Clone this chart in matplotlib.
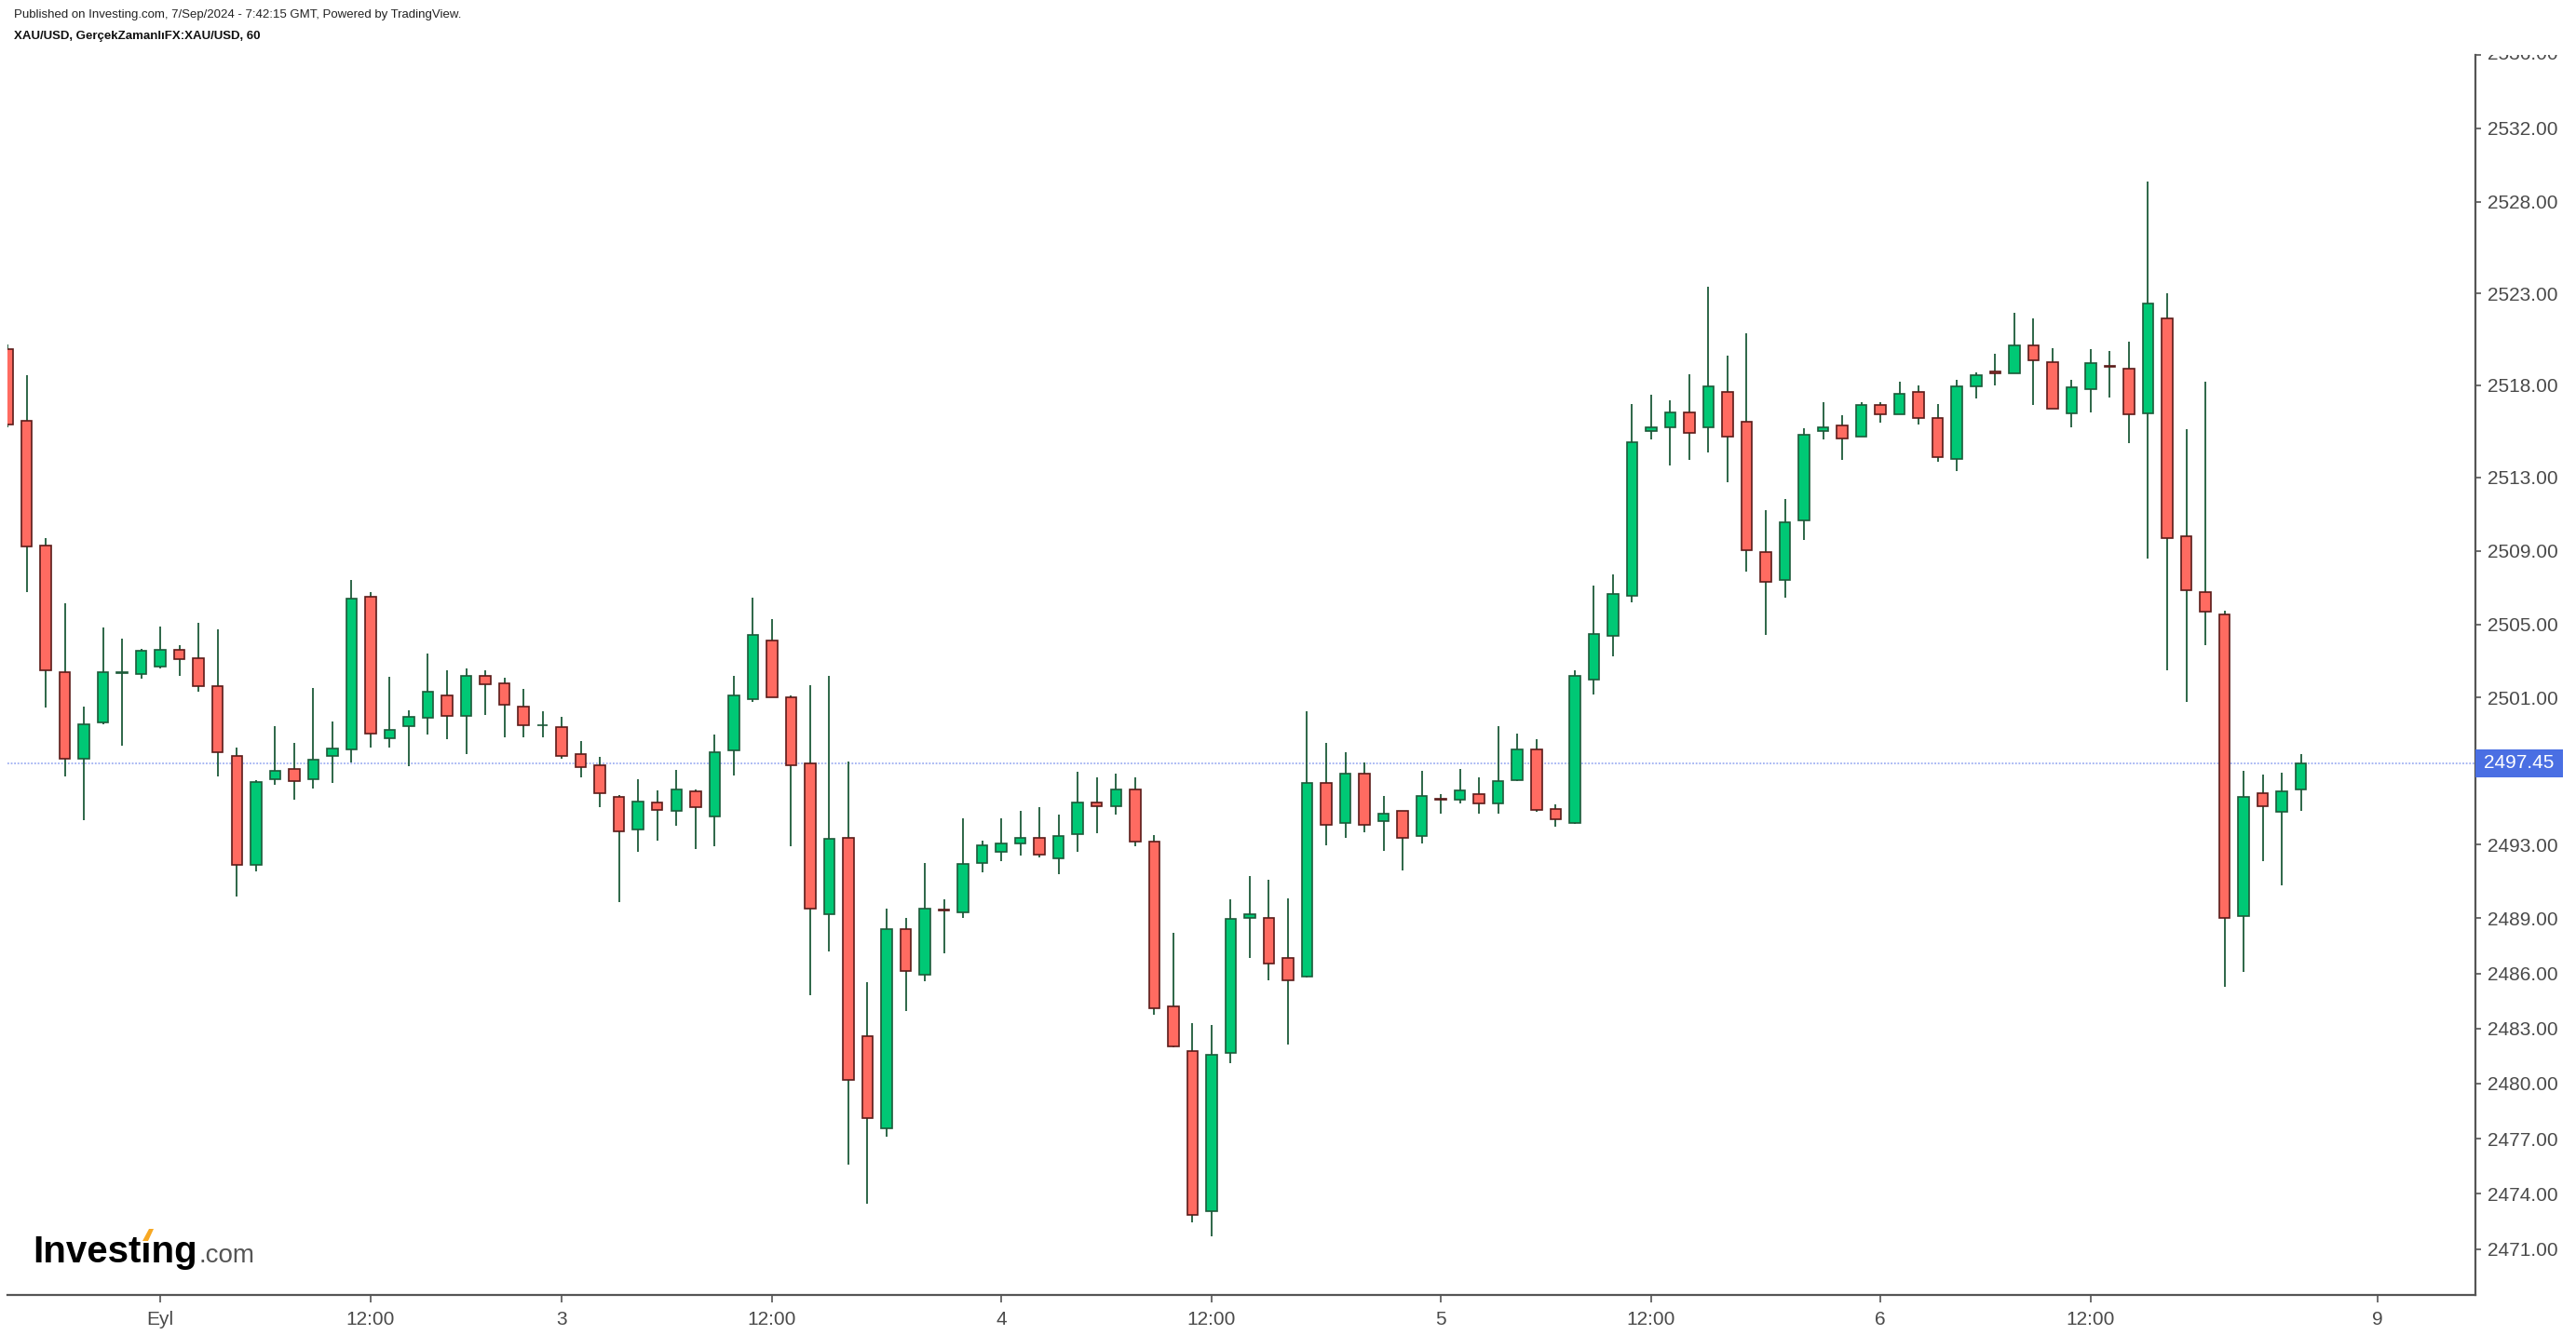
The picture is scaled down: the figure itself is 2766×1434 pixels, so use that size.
import matplotlib
matplotlib.use('Agg')
import matplotlib.pyplot as plt
from matplotlib.patches import Rectangle, Polygon
from matplotlib.transforms import Bbox, TransformedBbox, blended_transform_factory

plt.rcParams['font.family'] = ['Liberation Sans', 'DejaVu Sans']

# ---------------- data (hourly XAU/USD candles) ----------------
opens = [2519.96, 2516.08, 2509.26, 2502.41, 2497.70, 2499.64, 2502.35, 2502.30, 2502.70, 2503.63,
         2503.13, 2501.61, 2497.81, 2491.90, 2496.57, 2497.11, 2496.57, 2497.81, 2498.20, 2506.51,
         2498.82, 2499.45, 2499.90, 2501.15, 2499.99, 2502.18, 2501.76, 2500.51, 2499.48, 2499.40,
         2497.94, 2497.33, 2495.58, 2493.84, 2495.28, 2494.85, 2495.89, 2494.55, 2498.15, 2500.91,
         2504.12, 2501.03, 2497.45, 2489.24, 2493.38, 2482.58, 2477.57, 2488.39, 2485.91, 2489.45,
         2489.30, 2491.99, 2492.63, 2493.05, 2493.38, 2492.25, 2493.56, 2495.32, 2495.10, 2496.03,
         2493.16, 2484.20, 2481.76, 2473.05, 2481.65, 2489.01, 2489.01, 2486.86, 2485.85, 2496.36,
         2494.19, 2496.88, 2494.29, 2494.83, 2493.48, 2495.52, 2495.43, 2495.75, 2495.23, 2496.54,
         2498.19, 2494.93, 2494.19, 2501.97, 2504.39, 2506.54, 2515.51, 2515.71, 2516.54, 2515.71,
         2517.65, 2516.03, 2508.94, 2507.40, 2510.64, 2515.51, 2515.83, 2515.20, 2516.94, 2516.42,
         2517.65, 2516.24, 2513.99, 2517.94, 2518.75, 2518.65, 2520.19, 2519.27, 2516.50, 2517.79,
         2519.05, 2518.91, 2516.50, 2521.64, 2509.79, 2506.73, 2505.55, 2489.11, 2495.82, 2494.79,
         2495.99]
highs = [2520.20, 2518.54, 2509.69, 2506.12, 2500.52, 2504.81, 2504.20, 2503.65, 2504.87, 2503.87,
         2505.09, 2504.70, 2498.27, 2496.52, 2499.47, 2498.55, 2501.54, 2499.69, 2507.43, 2506.73,
         2502.15, 2500.30, 2503.43, 2502.51, 2502.61, 2502.51, 2502.09, 2501.48, 2500.25, 2499.94,
         2498.62, 2497.78, 2495.72, 2496.55, 2495.94, 2497.07, 2496.03, 2499.02, 2502.21, 2506.42,
         2505.29, 2501.15, 2501.66, 2502.21, 2497.51, 2485.54, 2489.53, 2489.02, 2491.99, 2490.04,
         2494.43, 2493.21, 2494.43, 2494.85, 2495.05, 2494.63, 2496.98, 2496.67, 2496.89, 2496.67,
         2493.52, 2488.22, 2483.31, 2483.21, 2490.04, 2491.30, 2491.10, 2490.07, 2500.26, 2498.54,
         2498.02, 2497.50, 2495.67, 2494.83, 2497.01, 2495.77, 2497.11, 2496.68, 2499.45, 2499.03,
         2498.73, 2495.18, 2502.51, 2507.08, 2507.70, 2516.98, 2517.48, 2517.18, 2518.60, 2523.36,
         2519.61, 2520.83, 2511.20, 2511.81, 2515.64, 2517.08, 2516.37, 2517.08, 2517.08, 2518.19,
         2517.99, 2516.98, 2518.30, 2518.70, 2519.71, 2521.94, 2521.64, 2520.00, 2518.32, 2519.97,
         2519.85, 2520.38, 2529.08, 2522.99, 2515.61, 2518.20, 2505.73, 2497.03, 2496.82, 2496.94,
         2497.94]
lows = [2515.70, 2506.77, 2500.45, 2496.74, 2494.32, 2499.53, 2498.40, 2502.06, 2502.59, 2502.17,
        2501.34, 2496.74, 2490.16, 2491.56, 2496.26, 2495.44, 2496.05, 2496.35, 2497.46, 2498.31,
        2498.31, 2497.29, 2499.02, 2498.74, 2497.92, 2500.04, 2498.84, 2498.84, 2498.84, 2497.70,
        2496.69, 2495.04, 2489.90, 2492.59, 2493.20, 2494.03, 2492.78, 2492.90, 2496.79, 2500.79,
        2501.03, 2492.90, 2484.81, 2487.17, 2475.58, 2473.47, 2477.11, 2483.94, 2485.58, 2487.11,
        2489.04, 2491.48, 2492.10, 2492.41, 2492.32, 2491.39, 2492.61, 2493.63, 2494.65, 2492.92,
        2483.74, 2482.00, 2472.43, 2471.70, 2481.10, 2486.83, 2485.62, 2482.14, 2485.80, 2492.96,
        2493.35, 2493.67, 2492.64, 2491.62, 2493.06, 2494.71, 2495.23, 2494.71, 2494.71, 2496.46,
        2494.78, 2493.97, 2494.15, 2501.20, 2503.25, 2506.19, 2515.07, 2513.65, 2513.95, 2514.36,
        2512.74, 2507.87, 2504.43, 2506.45, 2509.60, 2515.07, 2513.95, 2515.20, 2515.98, 2516.42,
        2515.88, 2513.85, 2513.35, 2517.30, 2518.01, 2518.65, 2516.91, 2516.72, 2515.73, 2516.55,
        2517.35, 2514.85, 2508.55, 2502.50, 2500.76, 2503.88, 2485.26, 2486.06, 2492.11, 2490.79,
        2494.85]
closes = [2515.88, 2509.24, 2502.50, 2497.70, 2499.56, 2502.41, 2502.40, 2503.55, 2503.63, 2503.11,
          2501.61, 2498.03, 2491.90, 2496.39, 2497.00, 2496.48, 2497.62, 2498.23, 2506.40, 2499.03,
          2499.25, 2499.97, 2501.33, 2499.99, 2502.18, 2501.73, 2500.60, 2499.50, 2499.52, 2497.85,
          2497.23, 2495.80, 2493.72, 2495.37, 2494.88, 2496.01, 2495.06, 2498.06, 2501.12, 2504.42,
          2501.03, 2497.33, 2489.53, 2493.32, 2480.21, 2478.15, 2488.39, 2486.13, 2489.50, 2489.40,
          2491.95, 2492.97, 2493.07, 2493.38, 2492.45, 2493.49, 2495.32, 2495.10, 2496.03, 2493.16,
          2484.09, 2482.05, 2472.87, 2481.56, 2488.99, 2489.20, 2486.56, 2485.62, 2496.36, 2494.09,
          2496.88, 2494.09, 2494.71, 2493.38, 2495.65, 2495.47, 2495.97, 2495.23, 2496.46, 2498.19,
          2494.91, 2494.41, 2502.17, 2504.49, 2506.63, 2514.88, 2515.73, 2516.54, 2515.41, 2517.96,
          2515.19, 2509.02, 2507.30, 2510.56, 2515.32, 2515.71, 2515.10, 2516.94, 2516.42, 2517.55,
          2516.22, 2514.09, 2517.96, 2518.56, 2518.65, 2520.19, 2519.36, 2516.72, 2517.91, 2519.20,
          2519.00, 2516.41, 2522.44, 2509.70, 2506.85, 2505.67, 2489.03, 2495.58, 2495.11, 2495.91,
          2497.45]

last_price = 2497.45
y_tick_values = [2536, 2532, 2528, 2523, 2518, 2513, 2509, 2505, 2501,
                 2493, 2489, 2486, 2483, 2480, 2477, 2474, 2471]
x_tick_bars = [8, 19, 29, 40, 52, 63, 75, 86, 98, 109, 124]
x_tick_labels = ["Eyl", "12:00", "3", "12:00", "4", "12:00", "5", "12:00", "6", "12:00", "9"]

header_line1 = "Published on Investing.com, 7/Sep/2024 - 7:42:15 GMT, Powered by TradingView."
header_line2 = "XAU/USD, GerçekZamanlıFX:XAU/USD, 60"

# ---------------- styles ----------------
UP_FACE = '#00C875'
DOWN_FACE = '#FF6B61'
UP_EDGE = '#1D5A39'
DOWN_EDGE = '#5B1B19'
WICK = '#1D5A39'
AXIS_C = '#555555'
LABEL_C = '#4a4a4a'

W, H = 2766, 1434
fig = plt.figure(figsize=(W / 100, H / 100), dpi=100)
fig.patch.set_facecolor('white')


def fx(x):
    return x / W


def fy(y):
    return 1 - y / H


ax_top_px, ax_bot_px = 58.6, 1391
ax = fig.add_axes([fx(8), fy(ax_bot_px), fx(2658) - fx(8), fy(ax_top_px) - fy(ax_bot_px)])
ax.set_facecolor('white')

n = len(opens)
xs = list(range(n))
up = [c >= o for o, c in zip(opens, closes)]

ax.vlines(xs, lows, highs, color=WICK, linewidth=1.3, zorder=2)
bottoms = [min(o, c) for o, c in zip(opens, closes)]
heights = [max(abs(c - o), 0.03) for o, c in zip(opens, closes)]
faces = [UP_FACE if u else DOWN_FACE for u in up]
edges = [UP_EDGE if u else DOWN_EDGE for u in up]
ax.bar(xs, heights, bottom=bottoms, width=0.56, color=faces, edgecolor=edges,
       linewidth=1.2, zorder=3)

ax.axhline(last_price, color='#9FB0F2', linestyle=(0, (1, 1)), linewidth=1.3, zorder=1)

ax.set_xlim(0.0, 129.13)
ax.set_ylim(2468.50, 2536.0)

for s in ['left', 'top']:
    ax.spines[s].set_visible(False)
for s in ['right', 'bottom']:
    ax.spines[s].set_color(AXIS_C)
    ax.spines[s].set_linewidth(1.6)

ax.yaxis.tick_right()
ax.set_yticks(y_tick_values)
ax.set_yticklabels(['' if v == y_tick_values[0] else f"{v:.2f}" for v in y_tick_values])
ax.tick_params(axis='y', direction='out', length=4, width=1.2, color=AXIS_C,
               labelsize=15, pad=5, labelcolor=LABEL_C)
ax.set_xticks(x_tick_bars)
ax.set_xticklabels(x_tick_labels)
ax.tick_params(axis='x', direction='out', length=6, width=1.2, color=AXIS_C,
               labelsize=15, pad=6, labelcolor=LABEL_C)

# top price label, clipped at the top of the pane
bt = blended_transform_factory(fig.transFigure, ax.transData)
top_lbl = fig.text(fx(2671), y_tick_values[0], f"{y_tick_values[0]:.2f}", transform=bt,
                   fontsize=15, color=LABEL_C, va='center', ha='left')
top_lbl.set_clip_box(TransformedBbox(Bbox([[0, 0], [1, fy(ax_top_px)]]), fig.transFigure))
top_lbl.set_clip_on(True)

# last price badge
box_h = 30 / 19.74
badge = Rectangle((fx(2658), last_price - box_h / 2), fx(2752) - fx(2658), box_h,
                  transform=bt, facecolor='#4A6FE3', edgecolor='none', zorder=5)
fig.add_artist(badge)
fig.text(fx(2705), last_price, f"{last_price:.2f}", transform=bt, fontsize=15,
         color='white', ha='center', va='center', zorder=6)

# header
fig.text(fx(15), fy(16), header_line1, fontsize=9.5, color='#222222', va='center', ha='left')
fig.text(fx(15), fy(39), header_line2, fontsize=9.5, color='#111111', va='center', ha='left',
         fontweight='bold')

# logo
fig.text(fx(35), fy(1356), "Investing", fontsize=29, fontweight='bold', color='black',
         va='baseline', ha='left')
fig.text(fx(213), fy(1356), ".com", fontsize=20, color='#555555', va='baseline', ha='left')
fig.add_artist(Rectangle((fx(152), fy(1334.5)), fx(13), 10.5 / H, transform=fig.transFigure,
                         facecolor='white', edgecolor='none', zorder=7))
fig.add_artist(Polygon([(fx(153), fy(1333)), (fx(159), fy(1333)), (fx(165), fy(1320)),
                        (fx(160), fy(1320))], closed=True, transform=fig.transFigure,
                       facecolor='#F7A823', edgecolor='none', zorder=8))

fig.savefig('out.png', dpi=100, facecolor='white')
